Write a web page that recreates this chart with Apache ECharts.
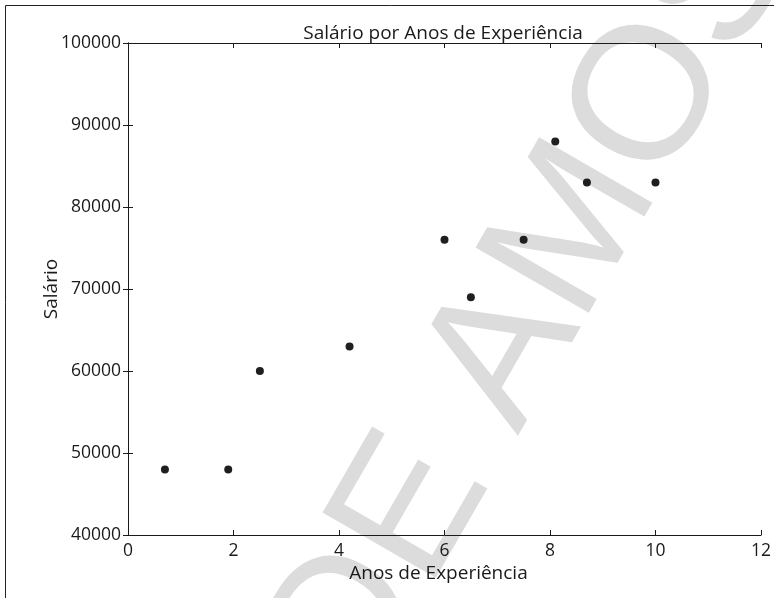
<!DOCTYPE html>
<html>
<head>
<meta charset="utf-8">
<script src="https://cdn.jsdelivr.net/npm/echarts@6/dist/echarts.min.js"></script>
<style>
html,body{margin:0;padding:0;background:#fff;}
#chart{width:774px;height:598px;}
</style>
</head>
<body>
<div id="chart"></div>
<script>
var anosExperiencia = [0.7, 1.9, 2.5, 4.2, 6.0, 6.5, 7.5, 8.1, 8.7, 10.0];
var salario = [48000, 48000, 60000, 63000, 76000, 69000, 76000, 88000, 83000, 83000];
var xTicks = [0, 2, 4, 6, 8, 10, 12];
var yTicks = [40000, 50000, 60000, 70000, 80000, 90000, 100000];
var titleText = 'Salário por Anos de Experiência';
var xName = 'Anos de Experiência';
var yName = 'Salário';
var watermarkText = 'DE AMOSTRA';

var points = anosExperiencia.map(function (x, i) { return [x, salario[i]]; });
var font = '"Open Sans", "Noto Sans", sans-serif';
var ink = '#1a1a1a';

var chart = echarts.init(document.getElementById('chart'), null, {renderer: 'canvas'});

function axisCommon(showLabel) {
  return {
    axisLine: {show: true, lineStyle: {color: ink, width: 1}},
    axisTick: {show: true, inside: true, length: 5, lineStyle: {color: ink, width: 1}},
    splitLine: {show: false},
    axisLabel: {show: showLabel, color: ink, fontSize: 17.5, fontFamily: font, margin: 7,
                formatter: function (v) { return String(v); }}
  };
}

var option = {
  backgroundColor: '#ffffff',
  animation: false,
  title: {
    text: titleText,
    left: 438,
    textAlign: 'center',
    top: 19,
    textStyle: {fontSize: 19, fontWeight: 'normal', color: ink, fontFamily: font}
  },
  grid: {left: 128, right: 12, top: 43, bottom: 63, containLabel: false},
  xAxis: [
    Object.assign({
      type: 'value', min: xTicks[0], max: xTicks[xTicks.length - 1], interval: 2, position: 'bottom',
      name: xName, nameLocation: 'middle', nameGap: 29, nameMoveOverlap: false,
      nameTextStyle: {fontSize: 19, color: ink, fontFamily: font, padding: [0, 12, 0, 0]}
    }, axisCommon(true)),
    Object.assign({
      type: 'value', min: xTicks[0], max: xTicks[xTicks.length - 1], interval: 2, position: 'top'
    }, axisCommon(false))
  ],
  yAxis: [
    Object.assign({
      type: 'value', min: yTicks[0], max: yTicks[yTicks.length - 1], interval: 10000, position: 'left',
      name: yName, nameLocation: 'middle', nameGap: 67, nameMoveOverlap: false,
      nameTextStyle: {fontSize: 19, color: ink, fontFamily: font}
    }, axisCommon(true)),
    Object.assign({
      type: 'value', min: yTicks[0], max: yTicks[yTicks.length - 1], interval: 10000, position: 'right'
    }, axisCommon(false))
  ],
  graphic: [
    {
      type: 'text', z: -10, x: 314, y: 684, rotation: Math.PI / 3, silent: true,
      style: {text: watermarkText, font: '190px "Liberation Sans", Arial, sans-serif', fill: '#dcdcdc',
              textAlign: 'left', textVerticalAlign: 'middle'}
    },
    {
      type: 'rect', z: -5, silent: true,
      shape: {x: 5.5, y: 5.5, width: 900, height: 900},
      style: {fill: 'none', stroke: '#222', lineWidth: 1}
    }
  ],
  series: [{
    type: 'scatter',
    data: points,
    symbol: 'circle',
    symbolSize: 8,
    itemStyle: {color: '#1f1f1f', opacity: 1},
    z: 5
  }]
};
chart.setOption(option);
</script>
</body>
</html>
